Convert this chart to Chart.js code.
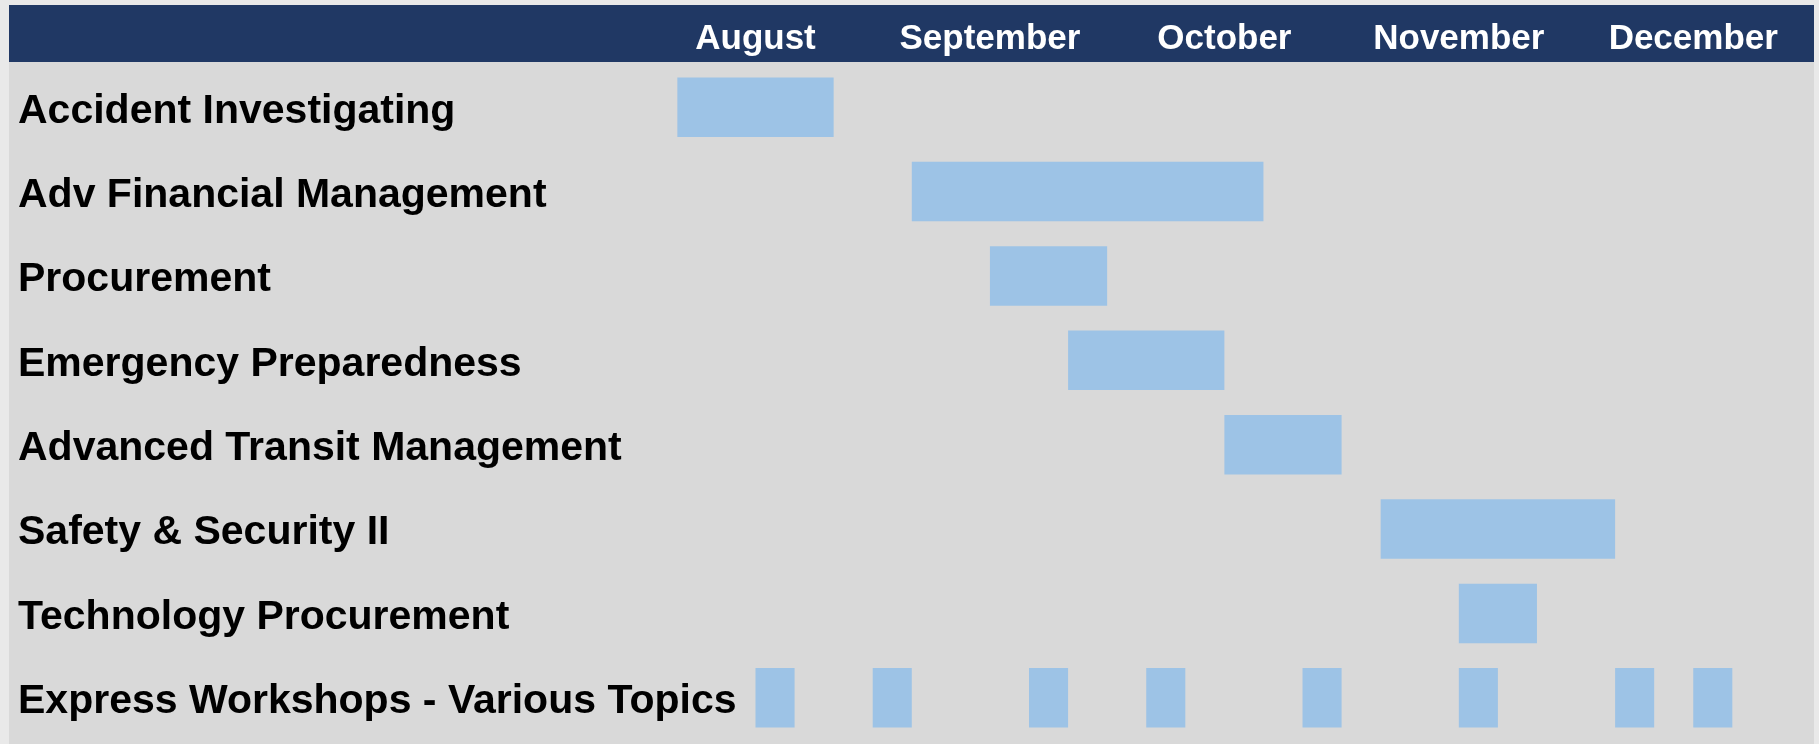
<!DOCTYPE html>
<html>
<head>
<meta charset="utf-8">
<script src="https://cdn.jsdelivr.net/npm/chart.js@4"></script>
<style>
  html, body { margin: 0; padding: 0; background: #e9e9e9; }
  #wrap { width: 1819px; height: 744px; position: relative; }
</style>
</head>
<body>
<div id="wrap"><canvas id="gantt"></canvas></div>
<script>
// rows of the schedule, top to bottom
const tasks = [
    'Accident Investigating',
    'Adv Financial Management',
    'Procurement',
    'Emergency Preparedness',
    'Advanced Transit Management',
    'Safety & Security II',
    'Technology Procurement',
    'Express Workshops - Various Topics'
];
// start / end in weeks counted from the first column
const taskStart = [0, 6, 8, 10, 14, 18, 20, null];
const taskEnd = [4, 15, 11, 14, 17, 24, 22, null];
// the express workshops are single-week sessions on the last row
const workshopStart = [2, 5, 9, 12, 16, 20, 24, 26];
const workshopEnd = [3, 6, 10, 13, 17, 21, 25, 27];
// month headers and where they sit on the week axis
const months = ['August', 'September', 'October', 'November', 'December'];
const monthTicks = [2, 8, 14, 20, 26];

const barColor = '#9dc3e6';
const fontFamily = "'Liberation Sans', Arial, sans-serif";

var datasets = [{
    label: 'Courses',
    data: tasks.map(function(t, i) {
        return taskStart[i] === null ? null : [taskStart[i], taskEnd[i]];
    }),
    backgroundColor: barColor
}];
workshopStart.forEach(function(s, j) {
    datasets.push({
        label: 'Workshop ' + (j + 1),
        data: tasks.map(function(t, i) {
            return i === tasks.length - 1 ? [s, workshopEnd[j]] : null;
        }),
        backgroundColor: barColor
    });
});

// page frame: grey body and navy header band
const frame = {
    id: 'frame',
    beforeDraw: function(chart) {
        const ctx = chart.ctx;
        ctx.save();
        ctx.fillStyle = '#e9e9e9';
        ctx.fillRect(0, 0, chart.width, chart.height);
        ctx.fillStyle = '#d9d9d9';
        ctx.fillRect(9, 5, 1805, chart.height - 5);
        ctx.fillStyle = '#203864';
        ctx.fillRect(9, 5, 1805, 57);
        ctx.restore();
    }
};

new Chart(document.getElementById('gantt'), {
    type: 'bar',
    data: {
        labels: tasks,
        datasets: datasets
    },
    plugins: [frame],
    options: {
        indexAxis: 'y',
        responsive: true,
        maintainAspectRatio: false,
        animation: false,
        layout: {
            padding: { left: 17, right: 5, top: 0, bottom: 4 }
        },
        datasets: {
            bar: {
                grouped: false,
                categoryPercentage: 1,
                barPercentage: 0.705
            }
        },
        plugins: {
            legend: { display: false },
            tooltip: { enabled: false }
        },
        scales: {
            x: {
                type: 'linear',
                position: 'top',
                min: -16.9,
                max: 29.09,
                grid: { display: false, drawTicks: false },
                border: { display: false },
                afterBuildTicks: function(axis) {
                    axis.ticks = monthTicks.map(function(v) { return { value: v }; });
                },
                afterFit: function(axis) {
                    axis.height = 65;
                    axis.paddingLeft = 0;
                    axis.paddingRight = 0;
                },
                ticks: {
                    autoSkip: false,
                    maxRotation: 0,
                    padding: 5,
                    color: '#ffffff',
                    font: { family: fontFamily, size: 35, weight: 'bold' },
                    callback: function(value, index) {
                        return months[index];
                    }
                }
            },
            y: {
                grid: { display: false, drawTicks: false },
                border: { display: false },
                afterFit: function(axis) {
                    axis.width = 0;
                    axis.paddingTop = 0;
                    axis.paddingBottom = 0;
                },
                ticks: {
                    mirror: true,
                    padding: 1,
                    labelOffset: 4,
                    color: '#000000',
                    font: { family: fontFamily, size: 41, weight: 'bold' }
                }
            }
        }
    }
});
</script>
</body>
</html>
